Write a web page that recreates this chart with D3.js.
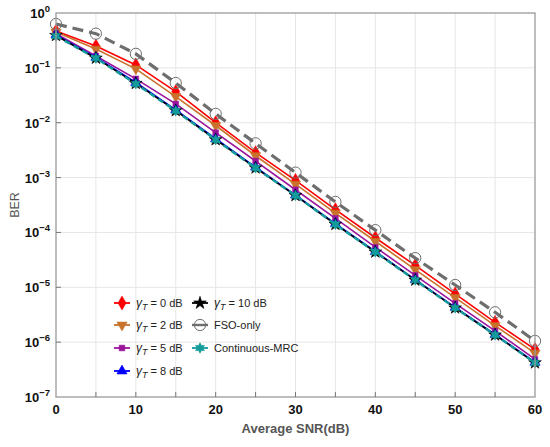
<!DOCTYPE html>
<html lang="en">
  <head>
    <meta charset="UTF-8" />
    <title>BER vs average SNR</title>
    <script src="https://d3js.org/d3.v7.min.js"></script>
    <style>
      body { margin: 0; background: #fff; }
      svg { font-family: "Liberation Sans", Arial, sans-serif; }
      .grid line { stroke: #e6e6e6; stroke-width: 1px; }
      .tick-label { font-size: 13px; font-weight: bold; fill: #111; }
      .legend text { font-size: 11px; fill: #222; }
    </style>
  </head>
  <body>
    <div id="chart"></div>

    <script>
      const snr = [0, 5, 10, 15, 20, 25, 30, 35, 40, 45, 50, 55, 60];
      const berT0 = [0.47, 0.25, 0.113, 0.037, 0.010, 2.85e-3, 8.9e-4, 2.6e-4, 8.0e-5, 2.5e-5, 7.6e-6, 2.3e-6, 7.4e-7];
      const berT2 = [0.45, 0.22, 0.096, 0.030, 8.9e-3, 2.5e-3, 7.6e-4, 2.25e-4, 6.9e-5, 2.1e-5, 6.5e-6, 2.0e-6, 6.3e-7];
      const berT5 = [0.42, 0.165, 0.063, 0.022, 6.6e-3, 2.0e-3, 6.0e-4, 1.8e-4, 5.4e-5, 1.65e-5, 5.1e-6, 1.6e-6, 4.9e-7];
      const berT8 = [0.40, 0.155, 0.054, 0.0172, 5.1e-3, 1.55e-3, 4.8e-4, 1.45e-4, 4.5e-5, 1.38e-5, 4.3e-6, 1.38e-6, 4.3e-7];
      const berT10 = [0.39, 0.15, 0.052, 0.0166, 4.9e-3, 1.5e-3, 4.7e-4, 1.4e-4, 4.4e-5, 1.35e-5, 4.2e-6, 1.35e-6, 4.2e-7];
      const berFso = [0.63, 0.42, 0.18, 0.053, 0.0145, 4.2e-3, 1.23e-3, 3.6e-4, 1.1e-4, 3.4e-5, 1.1e-5, 3.5e-6, 1.05e-6];
      const berMrc = [0.38, 0.15, 0.051, 0.0165, 4.9e-3, 1.5e-3, 4.7e-4, 1.4e-4, 4.4e-5, 1.35e-5, 4.2e-6, 1.35e-6, 4.2e-7];
      const yTicks = [1, 1e-1, 1e-2, 1e-3, 1e-4, 1e-5, 1e-6, 1e-7];
      const xTicks = [0, 10, 20, 30, 40, 50, 60];

      const series = [
        { name: "0", values: berT0, color: "#ff0000", symbol: d3.symbolDiamond, size: 55 },
        { name: "2", values: berT2, color: "#c8722c", symbol: "down", size: 45 },
        { name: "5", values: berT5, color: "#9b159b", symbol: d3.symbolSquare, size: 32 },
        { name: "8", values: berT8, color: "#0000ff", symbol: d3.symbolTriangle, size: 45 },
        { name: "10", values: berT10, color: "#000000", symbol: d3.symbolStar, size: 50 },
        { name: "FSO-only", values: berFso, color: "#6e6e6e", symbol: d3.symbolCircle, size: 100, open: true, dash: "11,6", width: 3.2 },
        { name: "Continuous-MRC", values: berMrc, color: "#149c9c", symbol: "hex", size: 70, dash: "6,4", width: 2.4 },
      ];

      const width = 550, height = 447;
      const margin = { left: 56, right: 15, top: 13, bottom: 50 };

      const x = d3.scaleLinear().domain([0, 60]).range([margin.left, width - margin.right]);
      const y = d3.scaleLog().domain([1e-7, 1]).range([height - margin.bottom, margin.top]);

      const svg = d3.select("#chart").append("svg").attr("width", width).attr("height", height);

      // grid
      const grid = svg.append("g").attr("class", "grid");
      grid.selectAll(".gx").data(d3.range(5, 60, 5)).join("line")
        .attr("x1", (d) => x(d)).attr("x2", (d) => x(d))
        .attr("y1", y(1)).attr("y2", y(1e-7));
      grid.selectAll(".gy").data(yTicks.slice(1, -1)).join("line")
        .attr("class", "gy")
        .attr("x1", x(0)).attr("x2", x(60))
        .attr("y1", (d) => y(d)).attr("y2", (d) => y(d));

      // six-point star, not in d3
      function path6(size) {
        const r = Math.sqrt(size / 2.6), ri = r * 0.55;
        const p = d3.path();
        for (let i = 0; i < 12; i++) {
          const a = (i * Math.PI) / 6 - Math.PI / 2;
          const rr = i % 2 ? ri : r;
          if (i === 0) p.moveTo(rr * Math.cos(a), rr * Math.sin(a));
          else p.lineTo(rr * Math.cos(a), rr * Math.sin(a));
        }
        p.closePath();
        return p.toString();
      }
      function markerPath(s) {
        if (s.symbol === "hex") return path6(s.size);
        if (s.symbol === "down") return d3.symbol(d3.symbolTriangle, s.size)();
        return d3.symbol(s.symbol, s.size)();
      }
      function markerTransform(s, px, py) {
        return `translate(${px},${py})` + (s.symbol === "down" ? " rotate(180)" : "");
      }

      const line = d3.line().x((d) => x(d[0])).y((d) => y(d[1]));

      const plot = svg.append("g");
      series.forEach((s) => {
        const pts = snr.map((v, i) => [v, s.values[i]]);
        plot.append("path")
          .attr("d", line(pts))
          .attr("fill", "none")
          .attr("stroke", s.color)
          .attr("stroke-width", s.width || 1.6)
          .attr("stroke-dasharray", s.dash || null);
        plot.selectAll(null).data(pts).join("path")
          .attr("d", markerPath(s))
          .attr("transform", (d) => markerTransform(s, x(d[0]), y(d[1])))
          .attr("fill", s.open ? "none" : s.color)
          .attr("stroke", s.color)
          .attr("stroke-width", s.open ? 1 : 0.6);
      });

      // frame
      svg.append("rect")
        .attr("x", x(0)).attr("y", y(1))
        .attr("width", x(60) - x(0)).attr("height", y(1e-7) - y(1))
        .attr("fill", "none").attr("stroke", "#9a9a9a").attr("stroke-width", 1.3);

      // ticks
      const ticks = svg.append("g").attr("stroke", "#777").attr("stroke-width", 1);
      ticks.selectAll(null).data(d3.range(5, 60, 5)).join("line")
        .attr("x1", (d) => x(d)).attr("x2", (d) => x(d))
        .attr("y1", y(1e-7)).attr("y2", y(1e-7) - 5);
      ticks.selectAll(null).data(yTicks.slice(1, -1)).join("line")
        .attr("x1", x(0)).attr("x2", x(0) + 5)
        .attr("y1", (d) => y(d)).attr("y2", (d) => y(d));

      svg.append("g").selectAll("text").data(xTicks).join("text")
        .attr("class", "tick-label")
        .attr("x", (d) => x(d)).attr("y", y(1e-7) + 17)
        .attr("text-anchor", "middle")
        .text((d) => d);

      const yl = svg.append("g").selectAll("text").data(yTicks).join("text")
        .attr("class", "tick-label")
        .attr("x", x(0) - 6).attr("y", (d) => y(d) + 5)
        .attr("text-anchor", "end");
      yl.append("tspan").text("10");
      yl.append("tspan").attr("dy", -6).style("font-size", "9.5px")
        .text((d) => (Math.round(Math.log10(d)) === 0 ? "0" : "\u2212" + -Math.round(Math.log10(d))));

      svg.append("text")
        .attr("x", (x(0) + x(60)) / 2).attr("y", 433)
        .attr("text-anchor", "middle")
        .style("font-size", "13px").style("font-weight", "bold").style("fill", "#555")
        .text("Average SNR(dB)");

      svg.append("text")
        .attr("transform", `translate(19,${(y(1) + y(1e-7)) / 2}) rotate(-90)`)
        .attr("text-anchor", "middle")
        .style("font-size", "12.5px").style("fill", "#555")
        .text("BER");

      // legend
      const legendPos = [
        [122, 303], [122, 325], [122, 348], [122, 371],
        [200, 303], [200, 325], [200, 348],
      ];
      const legend = svg.append("g").attr("class", "legend");
      series.forEach((s, i) => {
        const [lx, ly] = legendPos[i];
        const g = legend.append("g");
        g.append("line")
          .attr("x1", lx - 8).attr("x2", lx + 8).attr("y1", ly).attr("y2", ly)
          .attr("stroke", s.color).attr("stroke-width", s.open ? 2.4 : 1.8);
        g.append("path")
          .attr("d", markerPath(s))
          .attr("transform", markerTransform(s, lx, ly))
          .attr("fill", "none")
          .attr("fill", s.open ? "none" : s.color)
          .attr("stroke", s.color).attr("stroke-width", s.open ? 1 : 0.6);
        const t = g.append("text").attr("x", lx + 14).attr("y", ly + 4);
        if (i < 5) {
          t.append("tspan").style("font-style", "italic").style("font-size", "12px").text("\u03b3");
          t.append("tspan").style("font-style", "italic").style("font-size", "9px").attr("dy", 3).text("T");
          t.append("tspan").attr("dy", -3).text(` = ${s.name} dB`);
        } else {
          t.text(s.name);
        }
      });
    </script>
  </body>
</html>
